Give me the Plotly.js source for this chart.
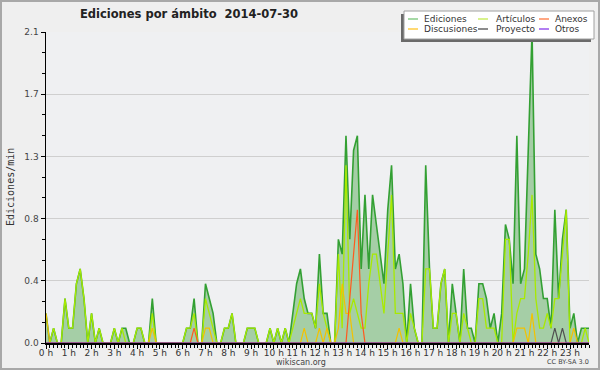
<!DOCTYPE html>
<html><head><meta charset="utf-8">
<script src="https://cdn.plot.ly/plotly-3.0.1.min.js"></script>
<style>
html,body{margin:0;padding:0;background:#efefef;}
#wrap{position:relative;width:600px;height:370px;}
#chart{width:600px;height:370px;}
#frame{position:absolute;left:0;top:0;width:600px;height:370px;box-sizing:border-box;border:2px solid #a8a8a8;pointer-events:none;}
</style>
</head><body>
<div id="wrap"><div id="chart"></div><div id="frame"></div></div>
<script>
// ---- data: edits per minute, 10-minute bins (144 bins, 2014-07-30) ----
const seriesNames = ["Ediciones","Artículos","Anexos","Discusiones","Proyecto","Otros"];

const ediciones = [
 0.2,0,0.1,0,0,0.3,0.1,0.1,0.4,0.5,
 0.3,0,0.2,0,0.1,0,0,0,0.1,0,
 0.1,0.1,0,0,0.1,0.1,0,0,0.3,0,
 0,0,0,0,0,0,0,0.1,0.1,0.3,
 0,0,0.4,0.3,0.2,0,0,0.1,0.1,0.2,
 0,0,0,0.1,0.1,0.1,0,0,0,0.1,
 0,0.1,0,0.1,0,0.2,0.4,0.5,0.3,0.2,
 0.2,0.1,0.6,0.2,0.2,0,0,0.7,0.6,1.4,
 0.7,1.3,1.4,0.5,1.0,0.5,1.0,0.8,0.6,0.4,
 0.9,1.2,0.5,0.6,0.4,0,0.4,0.1,0,0,
 1.2,0.5,0.1,0.1,0.4,0.5,0,0.4,0.2,0,
 0.5,0.1,0.1,0,0.4,0.4,0.3,0.1,0.2,0,
 0.2,0.8,0.7,0.4,1.4,0.4,0.5,1.3,2.1,0.6,
 0.5,0.3,0.3,0.1,0.9,0.3,0.7,0.9,0.1,0.2,
 0,0.1,0.1,0.1
];
const articulos = [
 0,0,0.1,0,0,0.3,0.1,0.1,0.4,0.5,
 0.3,0,0.2,0,0.1,0,0,0,0.1,0,
 0.1,0,0,0,0.1,0.1,0,0,0.2,0,
 0,0,0,0,0,0,0,0.1,0.1,0.2,
 0,0,0.3,0.2,0.1,0,0,0.1,0.1,0.2,
 0,0,0,0.1,0.1,0.1,0,0,0,0.1,
 0,0.1,0,0.1,0,0.1,0.2,0.3,0.2,0.2,
 0.2,0.1,0.4,0.2,0.1,0,0,0.6,0.1,1.2,
 0.2,0.3,0.2,0.1,0.1,0.4,0.6,0.6,0.4,0.2,
 0.6,1.0,0.2,0.2,0.2,0,0.2,0.1,0,0,
 0.5,0.5,0.1,0.1,0.4,0.5,0,0.2,0.2,0,
 0.2,0.1,0,0,0.3,0.3,0.1,0.1,0.1,0,
 0,0.7,0.7,0,0.2,0.3,0.3,0.6,1.0,0.3,
 0.1,0.1,0.2,0.1,0.3,0.3,0.6,0.9,0,0,
 0,0,0.1,0
];
const anexos = [
 0,0,0,0,0,0,0,0,0,0,
 0,0,0,0,0,0,0,0,0,0,
 0,0,0,0,0,0,0,0,0,0,
 0,0,0,0,0,0,0,0,0,0.1,
 0,0,0,0,0,0,0,0,0,0,
 0,0,0,0,0,0,0,0,0,0,
 0,0,0,0,0,0,0,0,0,0,
 0,0,0,0,0,0,0,0,0,0,
 0.3,0.6,0.9,0.2,0,0,0,0,0,0,
 0,0,0,0,0,0,0,0,0,0,
 0,0,0,0,0,0,0,0,0,0,
 0,0,0,0,0,0,0,0,0,0,
 0,0,0,0,0,0,0,0,0,0,
 0,0,0,0,0,0,0,0,0,0,
 0,0,0,0
];
const discusiones = [
 0.2,0,0,0,0,0,0,0,0,0,
 0,0,0,0,0,0,0,0,0,0,
 0,0,0,0,0,0,0,0,0.1,0,
 0,0,0,0,0,0,0,0,0,0,
 0,0,0.1,0.1,0,0,0,0,0,0,
 0,0,0,0,0,0,0,0,0,0,
 0,0,0,0,0,0,0,0,0.1,0,
 0,0,0.1,0,0.1,0,0,0.1,0.4,0.2,
 0.2,0,0,0,0,0,0,0,0,0,
 0,0,0,0.1,0,0,0,0,0,0,
 0,0,0,0,0,0,0,0,0,0,
 0,0,0,0,0,0,0,0,0,0,
 0,0,0,0,0.1,0.1,0.1,0,0.2,0,
 0,0,0,0,0,0,0,0,0,0.1,
 0,0,0,0
];
const proyecto = [
 0,0,0,0,0,0,0,0,0,0,
 0,0,0,0,0,0,0,0,0,0,
 0,0,0,0,0,0,0,0,0,0,
 0,0,0,0,0,0,0,0,0,0,
 0,0,0,0,0,0,0,0,0,0,
 0,0,0,0,0,0,0,0,0,0,
 0,0,0,0,0,0,0,0,0,0,
 0,0,0,0,0,0,0,0,0,0,
 0,0,0,0,0,0,0,0,0,0,
 0,0,0,0,0,0,0,0,0,0,
 0,0,0,0,0,0,0,0,0,0,
 0,0,0,0,0,0,0,0,0,0,
 0,0,0,0,0,0,0,0,0,0,
 0,0,0,0,0.1,0,0.1,0,0,0,
 0,0,0,0
];
const otros = new Array(144).fill(0);

const hourTicks = [0,1,2,3,4,5,6,7,8,9,10,11,12,13,14,15,16,17,18,19,20,21,22,23];
const hourLabels = ["0 h","1 h","2 h","3 h","4 h","5 h","6 h","7 h","8 h","9 h","10 h","11 h",
                    "12 h","13 h","14 h","15 h","16 h","17 h","18 h","19 h","20 h","21 h","22 h","23 h"];
const yTicks = [0,0.42,0.84,1.26,1.68,2.1];
const yLabels = ["0.0","0.4","0.8","1.3","1.7","2.1"];

// bin start time in hours
const times = ediciones.map((_, i) => i / 6);

// ---- styling ----
const colors = {
  ediciones:"#33a033", edicionesFill:"rgba(120,185,120,0.62)",
  articulos:"#a8ea00", anexos:"#ff5a1e", discusiones:"#f3c200",
  proyecto:"#505050", otros:"#9944dd"
};
const legendColors = ["#88cc88","#cbee66","#ff8a5a","#ffcc44","#666666","#9955ee"];

// plot area in px
const PL = 46, PR = 589, PT = 32, PB = 343;
const px = v => (v - PL) / (PR - PL);
const py = v => (PB - v) / (PB - PT);

function line(y, color, w, name, extra) {
  return Object.assign({x: times, y: y, type:"scatter", mode:"lines", name: name,
    line:{color: color, width: w, shape:"linear"}, showlegend:false, hoverinfo:"skip"}, extra||{});
}

const traces = [
  line(ediciones, colors.ediciones, 1.6, seriesNames[0], {fill:"tozeroy", fillcolor: colors.edicionesFill}),
  line(articulos, colors.articulos, 1.3, seriesNames[1]),
  line(discusiones, colors.discusiones, 1.2, seriesNames[3]),
  line(anexos, colors.anexos, 1.2, seriesNames[2]),
  line(proyecto, colors.proyecto, 1.2, seriesNames[4]),
  line(otros, colors.otros, 1.2, seriesNames[5])
];

const font = "DejaVu Sans, Verdana, sans-serif";

// legend (drawn as a framed box, 3 columns x 2 rows)
const legCols = [408, 478, 539];
const legTextX = [424, 496, 555];
const legRows = [19, 29];
const legOrder = [[0,3],[1,4],[2,5]]; // column -> series indices
const shapes = [
  {type:"rect", xref:"paper", yref:"paper", x0:px(401), x1:px(591), y0:py(14), y1:py(42),
   fillcolor:"#6a6a6a", line:{width:0}, layer:"above"},
  {type:"rect", xref:"paper", yref:"paper", x0:px(404), x1:px(594), y0:py(11), y1:py(39),
   fillcolor:"#ffffff", line:{color:"#a0a0a0", width:1}, layer:"above"}
];
const annotations = [];
legOrder.forEach((col, c) => {
  col.forEach((si, r) => {
    shapes.push({type:"line", xref:"paper", yref:"paper",
      x0:px(legCols[c]), x1:px(legCols[c]+10), y0:py(legRows[r]), y1:py(legRows[r]),
      line:{color:legendColors[si], width:1.5}, layer:"above"});
    annotations.push({xref:"paper", yref:"paper", x:px(legTextX[c]-2), y:py(legRows[r]),
      xanchor:"left", yanchor:"middle", showarrow:false, text:seriesNames[si],
      font:{family:font, size:9, color:"#333"}});
  });
});

annotations.push(
  {xref:"paper", yref:"paper", x:px(10), y:py(187), textangle:-90, showarrow:false,
   xanchor:"center", yanchor:"middle", text:"Ediciones/min",
   font:{family:"DejaVu Sans Mono, monospace", size:10, color:"#333"}},
  {xref:"paper", yref:"paper", x:px(301), y:py(362), showarrow:false,
   xanchor:"center", yanchor:"middle", text:"wikiscan.org",
   font:{family:font, size:8, color:"#444"}},
  {xref:"paper", yref:"paper", x:px(591), y:py(362), showarrow:false,
   xanchor:"right", yanchor:"middle", text:"CC BY-SA 3.0",
   font:{family:font, size:6.5, color:"#444"}}
);

const layout = {
  width:600, height:370,
  paper_bgcolor:"#efefef", plot_bgcolor:"#eff0f2",
  margin:{l:PL, r:600-PR, t:PT, b:370-PB, pad:0},
  showlegend:false,
  title:{text:"Ediciones por ámbito\u00a0\u00a02014-07-30", xref:"container", yref:"container",
    x:189/600, xanchor:"center", y:1-14/370, yanchor:"middle",
    font:{family:font, size:11.5, color:"#222", weight:"bold"}},
  xaxis:{range:[0, 143/6], tickmode:"array", tickvals:hourTicks, ticktext:hourLabels,
    ticks:"outside", ticklen:4, tickwidth:1, tickcolor:"#000", ticklabelstandoff:-4,
    showline:true, linecolor:"#000", linewidth:2, showgrid:false, zeroline:false,
    tickfont:{family:font, size:9, color:"#333"},
    minor:{tickmode:"linear", tick0:0, dtick:1/6, ticks:"outside", ticklen:3, tickcolor:"#000", showgrid:false},
    fixedrange:true},
  yaxis:{range:[0, 2.1], tickmode:"array", tickvals:yTicks, ticktext:yLabels,
    ticks:"outside", ticklen:4, tickwidth:1, tickcolor:"#000",
    showline:true, linecolor:"#000", linewidth:1.5,
    showgrid:true, gridcolor:"#cfcfcf", gridwidth:1, zeroline:false,
    tickfont:{family:font, size:9, color:"#444"},
    minor:{tickmode:"linear", tick0:0, dtick:0.14, ticks:"outside", ticklen:3, tickcolor:"#000", showgrid:false},
    fixedrange:true},
  shapes:shapes,
  annotations:annotations
};

Plotly.newPlot("chart", traces, layout, {displayModeBar:false, staticPlot:true});
</script>
</body></html>
